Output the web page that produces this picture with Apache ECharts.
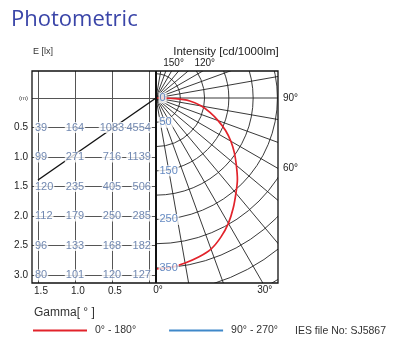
<!DOCTYPE html>
<html><head><meta charset="utf-8">
<script src="https://cdn.jsdelivr.net/npm/echarts@6/dist/echarts.min.js"></script>
<style>html,body{margin:0;padding:0;background:#fff}#c{width:398px;height:340px}</style>
</head><body><div id="c"></div>
<script>
// ---------- data ----------
const rowDistances = [0.5, 1.0, 1.5, 2.0, 2.5, 3.0];      // m
const colDiameters = [1.5, 1.0, 0.5, 0];                  // m
const luxRow05 = [39, 164, 1083, 4554];
const luxRow10 = [99, 271, 716, 1139];
const luxRow15 = [120, 235, 405, 506];
const luxRow20 = [112, 179, 250, 285];
const luxRow25 = [96, 133, 168, 182];
const luxRow30 = [80, 101, 120, 127];
const beamLine = [[-0.095, 0], [1.5, 1.39]];
const gammaAngles  = [0, 5, 10, 15, 20, 25, 30, 35, 40, 45, 50, 55, 60, 65, 70, 75, 80, 85, 88, 90];
const intensityC0  = [352, 350, 345, 339, 331, 316, 298, 277, 256, 237, 216, 197, 178, 158, 136, 115, 95, 70, 40, 0];
const intensityC90 = [352, 350, 345, 339, 331, 316, 298, 277, 256, 237, 216, 197, 178, 158, 136, 115, 95, 70, 40, 0];
const ringLabels = [0, 50, 150, 250, 350];
const angleTickLabels = [0, 30, 60, 90, 120, 150];
const xTickLabels = [1.5, 1.0, 0.5];
const yTickLabels = [0, 0.5, 1.0, 1.5, 2.0, 2.5, 3.0];

// ---------- layout ----------
const BOX = {left: 32, top: 71, mid: 156, right: 278, bottom: 283};
const CENTER = [156, 98];
const R_MAX = 500;
const POLAR_R = 170 * R_MAX / 350;
const X_MIN = -0.095, X_MAX = 1.581, Y_MIN = -0.458, Y_MAX = 3.136;
const NUM_COLOR = '#4d6a9e';
const FONT = 'Liberation Sans';

const luxRows = [luxRow05, luxRow10, luxRow15, luxRow20, luxRow25, luxRow30];
const cellData = [];
const lastCol = colDiameters.length - 1;
luxRows.forEach((row, ri) => row.forEach((v, ci) => {
  const align = ci === 0 ? 'left' : (ci === lastCol ? 'right' : 'center');
  const off = ci === 0 ? -4 : (ci === lastCol ? 3 : 0);
  cellData.push({value: [colDiameters[ci], rowDistances[ri], v], label: {align: align, offset: [off, 0]}});
}));

const gridLines = [];
[0].concat(rowDistances).forEach(d => gridLines.push({coords: [[X_MAX, d], [X_MIN, d]]}));
colDiameters.forEach(c => gridLines.push({coords: [[c, Y_MIN], [c, Y_MAX]]}));
gridLines.push({coords: beamLine, lineStyle: {color: '#111', width: 1.4, opacity: 1}});

const c0Data = gammaAngles.map((g, i) => [intensityC0[i], g]);
const c90Data = gammaAngles.map((g, i) => [intensityC90[i], (360 - g) % 360]);

// angle tick labels placed where the spokes meet the frame
const angleTexts = angleTickLabels.map(a => {
  const rad = a * Math.PI / 180, dx = Math.sin(rad), dy = Math.cos(rad);
  const tx = dx > 1e-9 ? (BOX.right - CENTER[0]) / dx : Infinity;
  const ty = dy > 1e-9 ? (BOX.bottom - CENTER[1]) / dy : (dy < -1e-9 ? (BOX.top - CENTER[1]) / dy : Infinity);
  let x, y, align, va = 'middle';
  if (tx < ty) { x = BOX.right + 5; y = CENTER[1] + dy * tx; align = 'left'; }
  else if (dy > 0) { x = CENTER[0] + dx * ty + 2; y = BOX.bottom + 7; align = 'center'; }
  else { x = CENTER[0] + dx * ty + 2; y = BOX.top - 8; align = 'center'; }
  return {type: 'text', x: x, y: y, z: 90, silent: true,
    style: {text: a + '°', fill: '#222', fontSize: 10, fontFamily: FONT, align: align, verticalAlign: va}};
});

const white = (x, y, w, h) => ({type: 'rect', z: 50, silent: true, shape: {x: x, y: y, width: w, height: h}, style: {fill: '#fff'}});
const txt = (t, x, y, size, color, align, family) => ({type: 'text', x: x, y: y, z: 90, silent: true,
  style: {text: t, fill: color, fontSize: size, fontFamily: family || FONT, align: align || 'left', verticalAlign: 'middle'}});

const chart = echarts.init(document.getElementById('c'), null, {renderer: 'canvas'});
chart.setOption({
  animation: false,
  backgroundColor: '#fff',
  polar: {center: CENTER, radius: POLAR_R},
  angleAxis: {type: 'value', min: 0, max: 360, interval: 10, startAngle: 270, clockwise: false,
    axisLine: {show: false}, axisTick: {show: false}, axisLabel: {show: false},
    splitLine: {show: true, lineStyle: {color: '#222', width: 0.9}}},
  radiusAxis: {type: 'value', min: 0, max: R_MAX, interval: 50,
    axisLine: {show: false}, axisTick: {show: false}, axisLabel: {show: false},
    splitLine: {show: true, lineStyle: {color: '#222', width: 0.9}}},
  grid: {left: BOX.left, right: 398 - BOX.mid, top: BOX.top, bottom: 340 - BOX.bottom, containLabel: false},
  xAxis: {type: 'value', inverse: true, min: X_MIN, max: X_MAX, z: 80,
    axisLine: {show: false}, axisTick: {show: false}, splitLine: {show: false},
    axisLabel: {customValues: xTickLabels, formatter: v => v.toFixed(1), color: '#222', fontSize: 10,
      fontFamily: FONT, margin: 3, padding: [0, 0, 0, 6]}},
  yAxis: {type: 'value', inverse: true, min: Y_MIN, max: Y_MAX, z: 80,
    axisLine: {show: false}, axisTick: {show: false}, splitLine: {show: false},
    axisLabel: {customValues: yTickLabels, color: '#222', fontSize: 10, fontFamily: FONT, margin: 4,
      formatter: v => v === 0 ? '{s|(m)}' : v.toFixed(1), rich: {s: {fontSize: 6, color: '#333'}}}},
  legend: {left: 33, top: 325, padding: 0, icon: 'rect', itemWidth: 54, itemHeight: 2, itemGap: 33, z: 95, selectedMode: false,
    textStyle: {fontSize: 10.5, color: '#333', fontFamily: FONT, padding: [0, 0, 0, 3]},
    data: ['0° - 180°', '90° - 270°']},
  series: [
    {name: '90° - 270°', type: 'line', coordinateSystem: 'polar', data: c90Data, smooth: 0.3, symbol: 'none',
      itemStyle: {color: '#3f88c9'}, lineStyle: {color: '#3f88c9', width: 1.8}, z: 4, silent: true},
    {name: '0° - 180°', type: 'line', coordinateSystem: 'polar', data: c0Data, smooth: 0.3, symbol: 'none',
      itemStyle: {color: '#e2232b'}, lineStyle: {color: '#e2232b', width: 1.7}, z: 5, silent: true},
    {type: 'scatter', coordinateSystem: 'polar', data: ringLabels.map(r => [r, 0]), symbolSize: 1,
      itemStyle: {color: 'rgba(0,0,0,0)'}, z: 10, silent: true,
      label: {show: true, position: 'right', distance: 2, formatter: p => String(p.value[0]),
        color: '#3f6db3', fontSize: 11, fontFamily: FONT, backgroundColor: '#fff', padding: [0, 1]}},
    {type: 'lines', coordinateSystem: 'cartesian2d', data: gridLines, z: 60, silent: true,
      lineStyle: {color: '#555', width: 1, opacity: 1}},
    {type: 'scatter', coordinateSystem: 'cartesian2d', data: cellData, symbolSize: 1,
      itemStyle: {color: 'rgba(0,0,0,0)'}, z: 70, silent: true,
      label: {show: true, position: 'inside', formatter: p => String(p.value[2]), color: NUM_COLOR,
        fontSize: 11, fontFamily: FONT, backgroundColor: '#fff', padding: [0, 1]}}
  ],
  graphic: [
    white(0, 0, 398, BOX.top),
    white(0, BOX.bottom, 398, 340 - BOX.bottom),
    white(BOX.right, BOX.top, 398 - BOX.right, BOX.bottom - BOX.top),
    white(0, BOX.top, BOX.mid, BOX.bottom - BOX.top),
    {type: 'rect', z: 85, silent: true, shape: {x: BOX.left, y: BOX.top, width: BOX.right - BOX.left, height: BOX.bottom - BOX.top},
      style: {fill: null, stroke: '#111', lineWidth: 1.3}},
    {type: 'line', z: 85, silent: true, shape: {x1: BOX.mid, y1: BOX.top, x2: BOX.mid, y2: BOX.bottom},
      style: {stroke: '#111', lineWidth: 2}},
    txt('Photometric', 11, 20, 22, '#3a45a8', 'left', 'Open Sans'),
    txt('E [lx]', 33, 52, 9, '#333'),
    txt('Intensity [cd/1000lm]', 226, 52, 11.5, '#222', 'center'),
    txt('Gamma[ ° ]', 34, 313, 12, '#333'),
    txt('IES file No: SJ5867', 295, 331, 10.5, '#333')
  ].concat(angleTexts)
});
</script></body></html>
